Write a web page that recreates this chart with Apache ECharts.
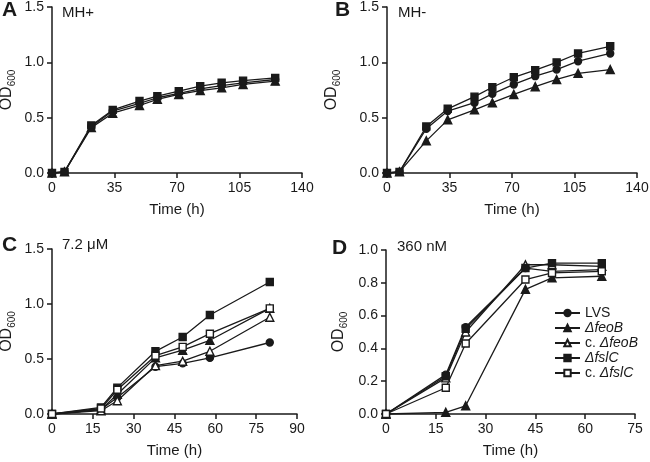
<!DOCTYPE html>
<html>
<head>
<meta charset="utf-8">
<script src="https://cdn.jsdelivr.net/npm/echarts@6/dist/echarts.min.js"></script>
<style>
html,body{margin:0;padding:0;background:#fff;}
#chart{width:650px;height:462px;}
</style>
</head>
<body>
<div id="chart"></div>
<script>
// ---------- data ----------
const strainNames = ['LVS', 'ΔfeoB', 'c. ΔfeoB', 'ΔfslC', 'c. ΔfslC'];

const timesA = [0, 7, 22, 34, 49, 59, 71, 83, 95, 107, 125];
const aLVS  = [0, 0.01, 0.42, 0.56, 0.63, 0.68, 0.72, 0.76, 0.79, 0.815, 0.845];
const aFeoB = [0, 0.01, 0.41, 0.54, 0.61, 0.665, 0.71, 0.745, 0.77, 0.80, 0.83];
const aFslC = [0, 0.01, 0.43, 0.57, 0.65, 0.695, 0.74, 0.785, 0.815, 0.835, 0.86];

const timesB = [0, 7, 22, 34, 49, 59, 71, 83, 95, 107, 125];
const bLVS  = [0, 0.01, 0.40, 0.56, 0.635, 0.715, 0.80, 0.875, 0.935, 1.01, 1.08];
const bFeoB = [0, 0.01, 0.29, 0.48, 0.57, 0.635, 0.71, 0.78, 0.845, 0.90, 0.935];
const bFslC = [0, 0.01, 0.42, 0.58, 0.69, 0.775, 0.865, 0.93, 1.00, 1.08, 1.145];

const timesC = [0, 18, 24, 38, 48, 58, 80];
const cLVS   = [0, 0.04, 0.15, 0.43, 0.46, 0.51, 0.65];
const cFeoB  = [0, 0.04, 0.18, 0.51, 0.58, 0.67, 0.96];
const cCFeoB = [0, 0.03, 0.12, 0.44, 0.48, 0.57, 0.88];
const cFslC  = [0, 0.06, 0.24, 0.57, 0.70, 0.90, 1.20];
const cCFslC = [0, 0.05, 0.22, 0.53, 0.61, 0.73, 0.96];

const timesD = [0, 18, 24, 42, 50, 65];
const dLVS   = [0, 0.24, 0.53, 0.89, 0.87, 0.88];
const dFeoB  = [0, 0.01, 0.05, 0.76, 0.83, 0.84];
const dCFeoB = [0, 0.22, 0.50, 0.91, 0.91, 0.90];
const dFslC  = [0, 0.23, 0.52, 0.89, 0.92, 0.92];
const dCFslC = [0, 0.16, 0.43, 0.82, 0.86, 0.87];

const xTicksAB = {min: 0, max: 140, interval: 35};
const xTicksC = {min: 0, max: 90, interval: 15};
const xTicksD = {min: 0, max: 75, interval: 15};
const yTicksABC = {min: 0, max: 1.5, interval: 0.5};
const yTicksD = {min: 0, max: 1.0, interval: 0.2};

const panelLetters = ['A', 'B', 'C', 'D'];
const panelConditions = ['MH+', 'MH-', '7.2 μM', '360 nM'];

// ---------- styles ----------
const INK = '#1a1a1a';
const FONT = 'Arial, "Liberation Sans", sans-serif';
const markerStyle = {
  'LVS': {symbol: 'circle', symbolSize: 7, fill: INK},
  'ΔfeoB': {symbol: 'triangle', symbolSize: 8, fill: INK},
  'c. ΔfeoB': {symbol: 'triangle', symbolSize: 8, fill: '#fff'},
  'ΔfslC': {symbol: 'rect', symbolSize: 7, fill: INK},
  'c. ΔfslC': {symbol: 'rect', symbolSize: 7, fill: '#fff'}
};

function mkSeries(name, xs, ys, idx) {
  const m = markerStyle[name];
  return {
    type: 'line', name: name,
    xAxisIndex: idx, yAxisIndex: idx,
    data: xs.map((x, i) => [x, ys[i]]),
    symbol: m.symbol, symbolSize: m.symbolSize,
    showAllSymbol: true,
    clip: false,
    itemStyle: {color: m.fill, borderColor: INK, borderWidth: 1.4},
    lineStyle: {color: INK, width: 1.3},
    emphasis: {disabled: true},
    animation: false
  };
}

const grids = [
  {left: 52, top: 7, width: 250, height: 166, outerBoundsMode: 'none', containLabel: false},
  {left: 387, top: 7, width: 250, height: 166, outerBoundsMode: 'none', containLabel: false},
  {left: 52, top: 249, width: 245, height: 165, outerBoundsMode: 'none', containLabel: false},
  {left: 386, top: 250, width: 249, height: 164, outerBoundsMode: 'none', containLabel: false}
];
const xTicks = [xTicksAB, xTicksAB, xTicksC, xTicksD];
const yTicks = [yTicksABC, yTicksABC, yTicksABC, yTicksD];
const yNameGaps = [26, 36, 26, 28];

const axisCommon = {
  axisLine: {show: true, lineStyle: {color: INK, width: 1.5}},
  axisTick: {show: true, length: 5, lineStyle: {color: INK, width: 1.5}},
  splitLine: {show: false},
  axisLabel: {color: INK, fontSize: 14, fontFamily: FONT, margin: 8}
};

const xAxes = xTicks.map((t, i) => Object.assign({}, axisCommon, {
  type: 'value', gridIndex: i, min: t.min, max: t.max, interval: t.interval,
  name: 'Time (h)', nameLocation: 'middle', nameGap: 29,
  nameTextStyle: {color: INK, fontSize: 15, fontFamily: FONT}
}));
const yAxes = yTicks.map((t, i) => Object.assign({}, axisCommon, {
  type: 'value', gridIndex: i, min: t.min, max: t.max, interval: t.interval,
  axisLabel: Object.assign({}, axisCommon.axisLabel, {formatter: v => v.toFixed(1)}),
  name: '{a|OD}{b|600}', nameLocation: 'middle', nameGap: yNameGaps[i],
  nameTextStyle: {
    color: INK, fontFamily: FONT,
    rich: {
      a: {fontSize: 16, lineHeight: 16, verticalAlign: 'top', color: INK, fontFamily: FONT},
      b: {fontSize: 10, lineHeight: 27, color: INK, fontFamily: FONT}
    }
  }
}));

const series = [
  mkSeries('LVS', timesA, aLVS, 0),
  mkSeries('ΔfeoB', timesA, aFeoB, 0),
  mkSeries('ΔfslC', timesA, aFslC, 0),
  mkSeries('LVS', timesB, bLVS, 1),
  mkSeries('ΔfeoB', timesB, bFeoB, 1),
  mkSeries('ΔfslC', timesB, bFslC, 1),
  mkSeries('LVS', timesC, cLVS, 2),
  mkSeries('ΔfeoB', timesC, cFeoB, 2),
  mkSeries('c. ΔfeoB', timesC, cCFeoB, 2),
  mkSeries('ΔfslC', timesC, cFslC, 2),
  mkSeries('c. ΔfslC', timesC, cCFslC, 2),
  mkSeries('LVS', timesD, dLVS, 3),
  mkSeries('ΔfeoB', timesD, dFeoB, 3),
  mkSeries('c. ΔfeoB', timesD, dCFeoB, 3),
  mkSeries('ΔfslC', timesD, dFslC, 3),
  mkSeries('c. ΔfslC', timesD, dCFslC, 3)
];

const letterPos = [[2, 11], [335, 11], [2, 246], [332, 249]];
const condPos = [[62, 14], [398, 14], [62, 246], [397, 248]];
const graphics = [];
panelLetters.forEach((L, i) => {
  graphics.push({type: 'text', left: letterPos[i][0], top: letterPos[i][1] - 11,
    style: {text: L, font: 'bold 21px ' + FONT, fill: INK}});
});
panelConditions.forEach((c, i) => {
  graphics.push({type: 'text', left: condPos[i][0], top: condPos[i][1] - 9,
    style: {text: c, font: '15px ' + FONT, fill: INK}});
});

const option = {
  backgroundColor: '#fff',
  animation: false,
  grid: grids,
  xAxis: xAxes,
  yAxis: yAxes,
  series: series,
  graphic: graphics,
  legend: {
    data: strainNames,
    orient: 'vertical',
    left: 549, top: 301,
    itemWidth: 25, itemHeight: 8, itemGap: 1,
    selectedMode: false,
    textStyle: {
      color: INK, fontSize: 14, fontFamily: FONT, lineHeight: 12,
      rich: {
        n: {fontSize: 14, fontFamily: FONT, color: INK, lineHeight: 12},
        i: {fontSize: 14, fontFamily: FONT, color: INK, fontStyle: 'italic', lineHeight: 12}
      }
    },
    formatter: function (name) {
      if (name.indexOf('c. ') === 0) return '{n|c. }{i|' + name.slice(3) + '}';
      if (name.indexOf('Δ') === 0) return '{i|' + name + '}';
      return '{n|' + name + '}';
    }
  }
};

const chart = echarts.init(document.getElementById('chart'), null, {renderer: 'canvas'});
chart.setOption(option);
</script>
</body>
</html>
